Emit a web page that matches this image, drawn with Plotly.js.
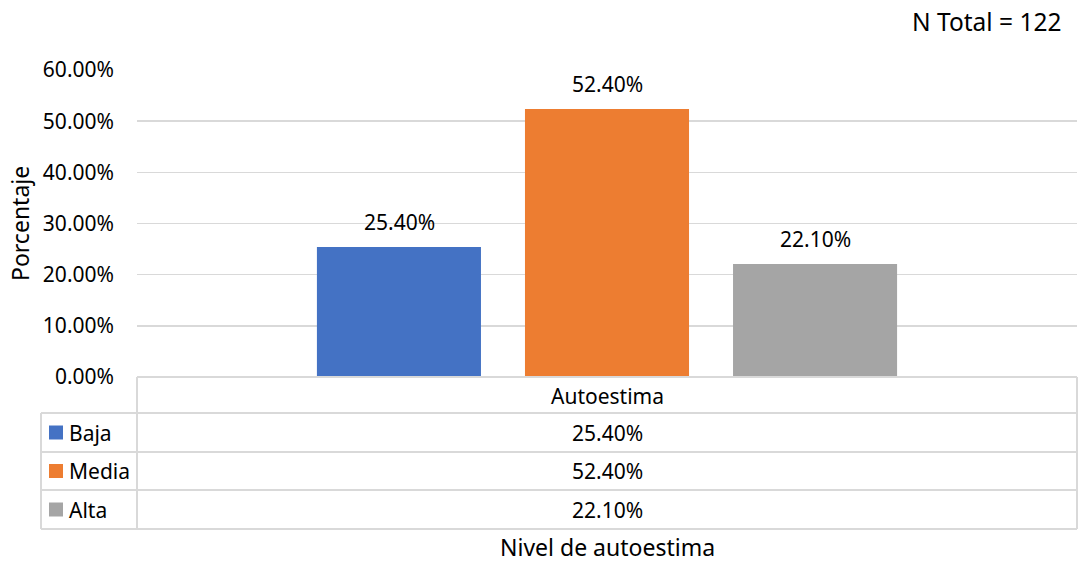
<!DOCTYPE html>
<html>
<head>
<meta charset="utf-8">
<script src="https://cdn.plot.ly/plotly-3.0.1.min.js"></script>
<style>html,body{margin:0;padding:0;background:#fff;}#chart{width:1078px;height:562px;}</style>
</head>
<body>
<div id="chart"></div>
<script>
// ---- data ----
const categories = ["Autoestima"];
const seriesNames = ["Baja", "Media", "Alta"];
const bajaValues = [0.254];
const mediaValues = [0.524];
const altaValues = [0.221];
const yTickValues = [0, 0.1, 0.2, 0.3, 0.4, 0.5, 0.6];
const totalLabel = "N Total = 122";
const xTitle = "Nivel de autoestima";
const yTitle = "Porcentaje";

// ---- style ----
const colors = ["#4472C4", "#ED7D31", "#A5A5A5"];
const FONT = "Noto Sans, sans-serif";
const FS = 21;
const TFS = 23;
const txt = "#000000";
const lineCol = "#d9d9d9";

// pixel geometry helpers (layout only)
const L = 137, R = 1077, T = 70, B = 377;
const px2x = p => (p - L) / (R - L);
const px2y = p => (B - p) / (B - T);

const allValues = [bajaValues, mediaValues, altaValues];
const traces = allValues.map((vals, i) => ({
  type: "bar",
  name: seriesNames[i],
  x: categories,
  y: vals,
  marker: {color: colors[i]},
  hoverinfo: "y",
  showlegend: false
}));

const fmt = v => (v * 100).toFixed(2) + "%";
const annotations = [];
const slot = 208;
// data labels above bars
allValues.forEach((vals, i) => {
  annotations.push({
    x: categories[0], y: vals[0], xref: "x", yref: "y",
    text: fmt(vals[0]), showarrow: false, xshift: (i - 1) * slot,
    yanchor: "bottom", yshift: 9,
    font: {family: FONT, size: FS, color: txt}
  });
});

// data table
const rowTops = [377, 413, 452, 490, 529];
const shapes = [];
const ln = (x0, y0, x1, y1) => shapes.push({
  type: "line", xref: "paper", yref: "paper",
  x0: px2x(x0), y0: px2y(y0), x1: px2x(x1), y1: px2y(y1),
  line: {color: lineCol, width: 2}
});
ln(137, 377, 1077, 377);
for (let k = 1; k < rowTops.length; k++) ln(41, rowTops[k], 1077, rowTops[k]);
ln(137, 377, 137, 529);
ln(1077, 377, 1077, 529);
ln(41, 413, 41, 529);

// header
annotations.push({
  xref: "paper", yref: "paper", x: 0.5, y: px2y(395.5),
  text: categories[0], showarrow: false, xanchor: "center", yanchor: "middle",
  font: {family: FONT, size: FS, color: txt}
});
seriesNames.forEach((n, i) => {
  const yc = (rowTops[i + 1] + rowTops[i + 2]) / 2;
  shapes.push({
    type: "rect", xref: "paper", yref: "paper",
    x0: px2x(49), x1: px2x(63), y0: px2y(yc - 7), y1: px2y(yc + 7),
    fillcolor: colors[i], line: {width: 0}
  });
  annotations.push({
    xref: "paper", yref: "paper", x: px2x(67), y: px2y(yc),
    text: n, showarrow: false, xanchor: "left", yanchor: "middle",
    font: {family: FONT, size: FS, color: txt}
  });
  annotations.push({
    xref: "paper", yref: "paper", x: 0.5, y: px2y(yc),
    text: fmt(allValues[i][0]), showarrow: false, xanchor: "center", yanchor: "middle",
    font: {family: FONT, size: FS, color: txt}
  });
});

// titles
annotations.push({
  xref: "paper", yref: "paper", x: px2x(1063), y: px2y(22),
  text: totalLabel, showarrow: false, xanchor: "right", yanchor: "middle",
  font: {family: FONT, size: 24.5, color: txt}
});
annotations.push({
  xref: "paper", yref: "paper", x: 0.5, y: px2y(547), borderpad: 0,
  text: xTitle, showarrow: false, xanchor: "center", yanchor: "middle",
  font: {family: FONT, size: TFS, color: txt}
});
annotations.push({
  xref: "paper", yref: "paper", x: px2x(20), y: px2y(224),
  text: yTitle, showarrow: false, xanchor: "center", yanchor: "middle", textangle: -90,
  font: {family: FONT, size: TFS, color: txt}
});

const layout = {
  width: 1078, height: 562,
  margin: {l: L, r: 1078 - R, t: T, b: 562 - B, pad: 0},
  paper_bgcolor: "#ffffff", plot_bgcolor: "#ffffff",
  barmode: "group", bargap: 0.336, bargroupgap: 0.2115,
  font: {family: FONT, size: FS, color: txt},
  xaxis: {
    type: "category", showticklabels: false, showgrid: false, zeroline: false,
    showline: false, ticks: "", fixedrange: true
  },
  yaxis: {
    range: [0, 0.6], tickvals: yTickValues, tickformat: ".2%",
    showgrid: true, gridcolor: lineCol, gridwidth: 1.5,
    zeroline: false, showline: false, ticks: "",
    ticklabelstandoff: 22,
    tickfont: {family: FONT, size: FS, color: txt}, fixedrange: true
  },
  shapes: shapes,
  annotations: annotations
};

Plotly.newPlot("chart", traces, layout, {displayModeBar: false, staticPlot: true});
</script>
</body>
</html>
